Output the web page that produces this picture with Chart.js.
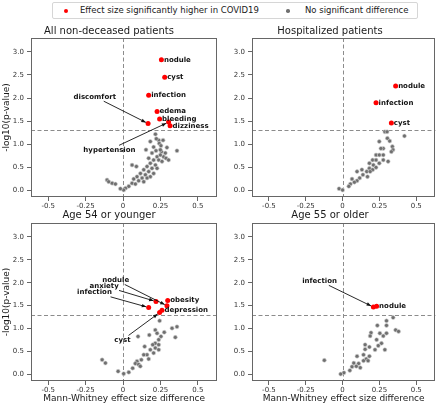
<!DOCTYPE html>
<html>
<head>
<meta charset="utf-8">
<script src="https://cdn.jsdelivr.net/npm/chart.js@4.4.1/dist/chart.umd.min.js"></script>
<style>
  body { margin: 0; background: #fff; }
  #wrap { position: relative; width: 440px; height: 407px; overflow: hidden; font-family: "DejaVu Sans", sans-serif; }
  canvas { position: absolute; }
  #legend { position: absolute; left: 52px; top: 2px; width: 364px; height: 15px; border: 1px solid #d6d6d6; border-radius: 2px; font-size: 8.5px; color: #1a1a1a; }
  #legend span { position: absolute; top: 1px; line-height: 13px; white-space: nowrap; }
  #legend i { position: absolute; border-radius: 50%; }
</style>
</head>
<body>
<div id="wrap">
  <div id="legend">
    <i style="left:11px;top:5.5px;width:4px;height:4px;background:red"></i>
    <span id="leg0" style="left:27px"></span>
    <i style="left:233px;top:6px;width:3.5px;height:3.5px;background:#707070"></i>
    <span id="leg1" style="left:252px"></span>
  </div>
  <canvas id="c0" width="222" height="195" style="left:0;top:20px"></canvas>
  <canvas id="c1" width="218" height="195" style="left:222px;top:20px"></canvas>
  <canvas id="c2" width="222" height="202" style="left:0;top:205px"></canvas>
  <canvas id="c3" width="218" height="202" style="left:222px;top:205px"></canvas>
</div>
<script>
// axes
const tickValuesX = [-0.5, -0.25, 0, 0.25, 0.5];
const tickLabelsX = ["-0.5", "-0.25", "0", "0.25", "0.5"];
const tickValuesY = [0, 0.5, 1, 1.5, 2, 2.5, 3];
const tickLabelsY = ["0.0", "0.5", "1.0", "1.5", "2.0", "2.5", "3.0"];
const panelTitles = ["All non-deceased patients", "Hospitalized patients", "Age 54 or younger", "Age 55 or older"];
const legendLabels = ["Effect size significantly higher in COVID19", "No significant difference"];
const xTitle = "Mann-Whitney effect size difference";
const yTitle = "-log10(p-value)";
const sigThreshold = 1.3;

// All non-deceased patients
const allSigX = [0.256, 0.278, 0.171, 0.227, 0.244, 0.167, 0.304, 0.314];
const allSigY = [2.83, 2.45, 2.06, 1.71, 1.55, 1.45, 1.48, 1.40];
const allSigLabels = ["nodule", "cyst", "infection", "edema", "bleeding", "discomfort", "hypertension", "dizziness"];
const allNsX = [0.216, 0.238, 0.242, 0.253, 0.267, 0.204, 0.36, 0.256, 0.293, 0.271, 0.22, 0.193, 0.227, 0.204, 0.238, 0.26,
  0.171, 0.182, 0.216, 0.16, 0.193, 0.227, 0.138, 0.171, 0.204, 0.116, 0.149, 0.182, 0.093, 0.127, 0.16, 0.071, 0.104,
  0.138, 0.06, 0.082, 0.038, 0.016, 0.004, -0.018, -0.107, -0.096, -0.073, -0.051, 0.06, 0.089, 0.249, 0.282, 0.287,
  0.304, 0.249, 0.222, 0.182, 0.153];
const allNsY = [1.22, 1.09, 1.02, 0.97, 1.09, 0.94, 0.86, 0.84, 0.93, 0.73, 0.86, 0.81, 0.73, 0.66, 0.66, 0.63,
  0.70, 0.59, 0.55, 0.52, 0.48, 0.48, 0.45, 0.41, 0.37, 0.37, 0.34, 0.30, 0.30, 0.27, 0.27, 0.25, 0.21,
  0.19, 0.16, 0.14, 0.09, 0.05, 0.01, 0.04, 0.23, 0.19, 0.16, 0.14, 0.55, 0.52, 0.88, 0.81, 0.70,
  0.66, 0.77, 1.12, 1.06, 0.88];

// Hospitalized patients
const hospSigX = [0.36, 0.227, 0.331];
const hospSigY = [2.26, 1.90, 1.46];
const hospSigLabels = ["nodule", "infection", "cyst"];
const hospNsX = [0.287, 0.302, 0.42, 0.304, 0.32, 0.249, 0.276, 0.26, 0.338, 0.342, 0.331, 0.227, 0.249, 0.276, 0.204,
  0.227, 0.276, 0.309, 0.249, 0.182, 0.209, 0.227, 0.182, 0.204, 0.131, 0.164, 0.187, 0.098, 0.138, 0.169, 0.116,
  0.064, 0.098, 0.08, 0.053, 0.042, -0.024, 0.0];
const hospNsY = [1.27, 1.27, 1.18, 1.13, 1.07, 1.06, 0.91, 0.91, 0.95, 0.88, 0.84, 0.77, 0.77, 0.77, 0.66,
  0.66, 0.66, 0.63, 0.59, 0.59, 0.55, 0.50, 0.48, 0.45, 0.45, 0.41, 0.41, 0.41, 0.34, 0.30, 0.27,
  0.25, 0.21, 0.18, 0.14, 0.09, 0.04, 0.01];

// Age 54 or younger
const youngSigX = [0.298, 0.293, 0.22, 0.171, 0.26, 0.244];
const youngSigY = [1.61, 1.50, 1.59, 1.46, 1.40, 1.35];
const youngSigLabels = ["obesity", "nodule", "anxiety", "infection", "depression", "cyst"];
const youngNsX = [0.244, 0.36, 0.327, 0.349, 0.215, 0.227, 0.275, 0.175, 0.10, 0.253, 0.238, 0.215, 0.198, 0.238,
  0.144, 0.215, 0.182, 0.238, 0.204, 0.16, 0.138, 0.171, 0.122, 0.093, 0.082, 0.104, 0.064, 0.115, 0.038, 0.004,
  -0.033, -0.14, -0.118];
const youngNsY = [1.17, 1.04, 1.01, 0.81, 0.97, 0.90, 0.92, 0.86, 0.83, 0.83, 0.76, 0.68, 0.65, 0.65,
  0.61, 0.58, 0.54, 0.54, 0.47, 0.43, 0.43, 0.34, 0.32, 0.29, 0.24, 0.22, 0.14, 0.18, 0.05, 0.02,
  0.07, 0.32, 0.25];

// Age 55 or older
const oldSigX = [0.209, 0.231];
const oldSigY = [1.47, 1.49];
const oldSigLabels = ["infection", "nodule"];
const oldNsX = [0.343, 0.298, 0.236, 0.298, 0.36, 0.38, 0.298, 0.253, 0.193, 0.187, 0.276, 0.231, 0.264, 0.153,
  0.242, 0.182, 0.153, 0.22, 0.287, 0.098, 0.142, 0.182, 0.16, 0.142, 0.173, 0.076, 0.109, 0.064, 0.093, 0.049,
  0.009, -0.013, -0.124, 0.12];
const oldNsY = [1.24, 1.17, 1.07, 1.07, 0.97, 0.94, 0.90, 0.90, 0.91, 0.84, 0.84, 0.76, 0.68, 0.65,
  0.63, 0.60, 0.55, 0.54, 0.54, 0.40, 0.43, 0.40, 0.34, 0.30, 0.30, 0.25, 0.24, 0.17, 0.18, 0.09,
  0.04, 0.01, 0.31, 0.15];

// where the arrow-annotated labels sit (data coords)
const arrowText = [
  { discomfort: [-0.189, 2.03], hypertension: [-0.091, 0.88] },
  {},
  { nodule: [-0.049, 2.06], anxiety: [-0.127, 1.93], infection: [-0.191, 1.79], cyst: [-0.004, 0.755] },
  { infection: [-0.156, 2.04] }
];

const FONT = "DejaVu Sans";
document.getElementById("leg0").textContent = legendLabels[0];
document.getElementById("leg1").textContent = legendLabels[1];

const toPoints = (xs, ys) => xs.map((x, i) => ({ x: x, y: ys[i] }));

// dashed reference lines at x=0 and the p=0.05 level
const refLines = {
  id: "refLines",
  beforeDatasetsDraw(chart) {
    const { ctx, chartArea: a, scales: { x, y } } = chart;
    ctx.save();
    ctx.strokeStyle = "#8c8c8c";
    ctx.lineWidth = 1;
    ctx.setLineDash([4, 2.5]);
    const px = Math.round(x.getPixelForValue(0)) + 0.5;
    const py = Math.round(y.getPixelForValue(sigThreshold)) + 0.5;
    ctx.beginPath();
    ctx.moveTo(px, a.top); ctx.lineTo(px, a.bottom);
    ctx.moveTo(a.left, py); ctx.lineTo(a.right, py);
    ctx.stroke();
    ctx.restore();
  }
};

// labels next to red points, some with arrows
const annot = {
  id: "annot",
  afterDatasetsDraw(chart, args, opts) {
    const { ctx, scales: { x, y } } = chart;
    ctx.save();
    ctx.font = "bold 7px '" + FONT + "'";
    ctx.fillStyle = "#111";
    ctx.strokeStyle = "#111";
    ctx.textBaseline = "middle";
    opts.labels.forEach((lab, i) => {
      const px = x.getPixelForValue(opts.xs[i]);
      const py = y.getPixelForValue(opts.ys[i]);
      const at = opts.textAt[lab];
      if (!at) {
        ctx.textAlign = "left";
        ctx.fillText(lab, px + 2.5, py);
        return;
      }
      const tx = x.getPixelForValue(at[0]);
      const ty = y.getPixelForValue(at[1]);
      ctx.textAlign = "center";
      ctx.fillText(lab, tx, ty);
      const w = ctx.measureText(lab).width / 2 + 1.5, h = 4.5;
      const dx = px - tx, dy = py - ty;
      const t = Math.min(Math.abs(w / dx), Math.abs(h / dy));
      const sx = tx + dx * t, sy = ty + dy * t;
      const len = Math.hypot(dx, dy);
      const ux = dx / len, uy = dy / len;
      const ex = px - ux * 2.5, ey = py - uy * 2.5;
      ctx.lineWidth = 0.9;
      ctx.beginPath();
      ctx.moveTo(sx, sy); ctx.lineTo(ex, ey);
      ctx.stroke();
      ctx.beginPath();
      ctx.moveTo(ex, ey);
      ctx.lineTo(ex - ux * 4.5 - uy * 1.8, ey - uy * 4.5 + ux * 1.8);
      ctx.lineTo(ex - ux * 4.5 + uy * 1.8, ey - uy * 4.5 - ux * 1.8);
      ctx.closePath();
      ctx.fill();
    });
    ctx.restore();
  }
};

// box around the plot
const frame = {
  id: "frame",
  afterDraw(chart) {
    const { ctx, chartArea: a } = chart;
    ctx.save();
    ctx.strokeStyle = "#666";
    ctx.lineWidth = 1;
    ctx.strokeRect(Math.round(a.left) + 0.5, Math.round(a.top) + 0.5, Math.round(a.right - a.left) - 1, Math.round(a.bottom - a.top) - 1);
    ctx.restore();
  }
};

function makePanel(n, sigX, sigY, sigLabels, nsX, nsY, cfg) {
  const ctx = document.getElementById("c" + n).getContext("2d");
  return new Chart(ctx, {
    type: "scatter",
    data: {
      datasets: [
        { label: legendLabels[0], data: toPoints(sigX, sigY), pointRadius: 2.5, pointBackgroundColor: "red", pointBorderWidth: 0 },
        { label: legendLabels[1], data: toPoints(nsX, nsY), pointRadius: 2, pointBackgroundColor: "#6f6f6f", pointBorderColor: "#d4d4d4", pointBorderWidth: 0.6 }
      ]
    },
    options: {
      responsive: false,
      animation: false,
      devicePixelRatio: 1,
      layout: { padding: { left: 0, right: cfg.rightPad, top: 0, bottom: 0 } },
      plugins: {
        legend: { display: false },
        tooltip: { enabled: false },
        title: {
          display: true, text: panelTitles[n], color: "#1a1a1a",
          font: { family: FONT, size: 10, weight: "normal" },
          padding: { top: cfg.titleTop, bottom: 18 - 12 - cfg.titleTop }
        },
        annot: { labels: sigLabels, xs: sigX, ys: sigY, textAt: arrowText[n] }
      },
      scales: {
        x: {
          type: "linear", min: -0.615, max: 0.63,
          afterBuildTicks: s => { s.ticks = tickValuesX.map(v => ({ value: v })); },
          afterFit: s => { s.height = cfg.xHeight; },
          ticks: { callback: (v, i) => tickLabelsX[i], font: { family: FONT, size: 7 }, color: "#333", padding: 1, maxRotation: 0, autoSkip: false },
          grid: { drawOnChartArea: false, drawTicks: true, tickLength: 4, tickColor: "#666" },
          border: { display: false },
          title: { display: cfg.xTitle, text: xTitle, color: "#1a1a1a", font: { family: FONT, size: 9 }, padding: { top: 0, bottom: 3 } }
        },
        y: {
          type: "linear", min: -0.14, max: 3.3,
          afterBuildTicks: s => { s.ticks = tickValuesY.map(v => ({ value: v })); },
          afterFit: s => { s.width = cfg.yWidth; },
          ticks: { callback: (v, i) => tickLabelsY[i], font: { family: FONT, size: 7 }, color: "#333", padding: 3, autoSkip: false },
          grid: { drawOnChartArea: false, drawTicks: true, tickLength: 4, tickColor: "#666" },
          border: { display: false },
          title: { display: cfg.yTitle, text: yTitle, color: "#1a1a1a", font: { family: FONT, size: 9 }, padding: { top: 1.5, bottom: 0 } }
        }
      }
    },
    plugins: [refLines, annot, frame]
  });
}

makePanel(0, allSigX, allSigY, allSigLabels, allNsX, allNsY, { rightPad: 4, titleTop: 5, xHeight: 18, yWidth: 31, xTitle: false, yTitle: true });
makePanel(1, hospSigX, hospSigY, hospSigLabels, hospNsX, hospNsY, { rightPad: 2, titleTop: 5, xHeight: 18, yWidth: 30, xTitle: false, yTitle: false });
makePanel(2, youngSigX, youngSigY, youngSigLabels, youngNsX, youngNsY, { rightPad: 4, titleTop: 4, xHeight: 26, yWidth: 31, xTitle: true, yTitle: true });
makePanel(3, oldSigX, oldSigY, oldSigLabels, oldNsX, oldNsY, { rightPad: 2, titleTop: 4, xHeight: 26, yWidth: 30, xTitle: true, yTitle: false });
</script>
</body>
</html>
